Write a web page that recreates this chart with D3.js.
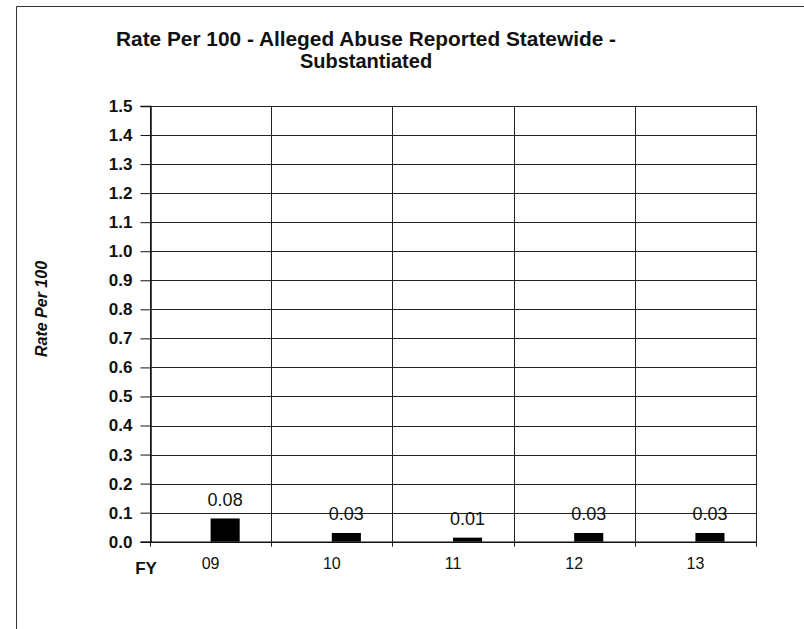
<!DOCTYPE html>
<html>
<head>
<meta charset="utf-8">
<script src="https://cdn.jsdelivr.net/npm/d3@7/dist/d3.min.js"></script>
<style>
  html, body { margin: 0; padding: 0; background: #fff; }
  svg { display: block; font-family: "Liberation Sans", Arial, sans-serif; }
</style>
</head>
<body>
<svg id="chart" width="804" height="629"></svg>
<script>
const categories = ["09", "10", "11", "12", "13"];
const rateValues = [0.08, 0.03, 0.014, 0.03, 0.03];
const yTickValues = [0.0, 0.1, 0.2, 0.3, 0.4, 0.5, 0.6, 0.7, 0.8, 0.9, 1.0, 1.1, 1.2, 1.3, 1.4, 1.5];
const titleLines = ["Rate Per 100 - Alleged Abuse Reported Statewide -", "Substantiated"];
const yAxisTitle = "Rate Per 100";
const xAxisTitle = "FY";

const svg = d3.select("#chart");
const ink = "#111";

// outer frame (left and top edges visible)
svg.append("path")
  .attr("d", "M16.5,640 L16.5,6.5 L820,6.5")
  .attr("fill", "none").attr("stroke", "#333").attr("stroke-width", 1);

const plot = { left: 150, right: 756, top: 106, bottom: 541.7 };

const x = d3.scaleBand().domain(categories).range([plot.left, plot.right]).padding(0);
const y = d3.scaleLinear().domain([0, 1.5]).range([plot.bottom, plot.top]);
const barW = x.bandwidth() * 0.24;
// two-slot cluster: empty first slot, visible series in second slot
const inner = d3.scaleBand().domain(["empty", "rate"])
  .range([x.bandwidth() / 2 - barW, x.bandwidth() / 2 + barW]);

const g = svg.append("g");

// horizontal gridlines
g.append("g").selectAll("line").data(yTickValues).join("line")
  .attr("x1", plot.left).attr("x2", plot.right)
  .attr("y1", d => Math.round(y(d)) + 0.5).attr("y2", d => Math.round(y(d)) + 0.5)
  .attr("stroke", "#222").attr("stroke-width", 1);

// vertical gridlines at category boundaries
const bounds = categories.map(c => x(c)).concat([plot.right]);
g.append("g").selectAll("line").data(bounds).join("line")
  .attr("x1", d => Math.round(d) + 0.5).attr("x2", d => Math.round(d) + 0.5)
  .attr("y1", plot.top).attr("y2", plot.bottom + 5)
  .attr("stroke", "#222").attr("stroke-width", 1);

// y axis
const yAxis = d3.axisLeft(y).tickValues(yTickValues).tickFormat(d3.format(".1f")).tickSize(10).tickPadding(8);
const yg = svg.append("g").attr("transform", `translate(${plot.left + 0.5},0)`).call(yAxis);
yg.select(".domain").attr("stroke", ink).attr("stroke-width", 1.5);
yg.selectAll(".tick line").attr("stroke", ink);
yg.selectAll(".tick text").attr("fill", ink).attr("font-size", 17).attr("font-weight", "bold")
  .attr("font-family", "Liberation Sans, Arial, sans-serif");

// x axis baseline
svg.append("line").attr("x1", plot.left).attr("x2", plot.right)
  .attr("y1", plot.bottom + 0.5).attr("y2", plot.bottom + 0.5)
  .attr("stroke", ink).attr("stroke-width", 1.5);

// x tick labels
const xAxis = d3.axisBottom(x).tickSize(0).tickPadding(16);
const xg = svg.append("g").attr("transform", `translate(0,${plot.bottom})`).call(xAxis);
xg.select(".domain").remove();
xg.selectAll(".tick text").attr("fill", ink).attr("font-size", 16)
  .attr("font-family", "Liberation Sans, Arial, sans-serif");

// bars
g.append("g").selectAll("rect").data(rateValues).join("rect")
  .attr("x", (d, i) => x(categories[i]) + inner("rate"))
  .attr("width", inner.bandwidth())
  .attr("y", d => y(d))
  .attr("height", d => y(0) - y(d))
  .attr("fill", "#000");

// value labels
g.append("g").selectAll("text").data(rateValues).join("text")
  .attr("x", (d, i) => x(categories[i]) + inner("rate") + inner.bandwidth() / 2)
  .attr("y", d => y(d) - 12.5)
  .attr("text-anchor", "middle")
  .attr("font-size", 18).attr("fill", ink)
  .text(d => d3.format(".2f")(d));

// title (one text block, two lines)
const title = svg.append("text")
  .attr("text-anchor", "middle")
  .attr("font-size", 20).attr("font-weight", "bold").attr("fill", ink);
title.selectAll("tspan").data(titleLines).join("tspan")
  .attr("x", 366)
  .attr("y", (d, i) => 45.5 + i * 22.5)
  .each(function (d, i) {
    if (i === 0) d3.select(this).attr("textLength", 500).attr("lengthAdjust", "spacingAndGlyphs");
  })
  .text(d => d);

// y axis title
svg.append("text")
  .attr("transform", "translate(47,309) rotate(-90)")
  .attr("text-anchor", "middle")
  .attr("font-size", 16).attr("font-weight", "bold").attr("font-style", "italic").attr("fill", ink)
  .text(yAxisTitle);

// x axis title
svg.append("text")
  .attr("x", 146).attr("y", 574)
  .attr("text-anchor", "middle")
  .attr("font-size", 17).attr("font-weight", "bold").attr("fill", ink)
  .text(xAxisTitle);
</script>
</body>
</html>
